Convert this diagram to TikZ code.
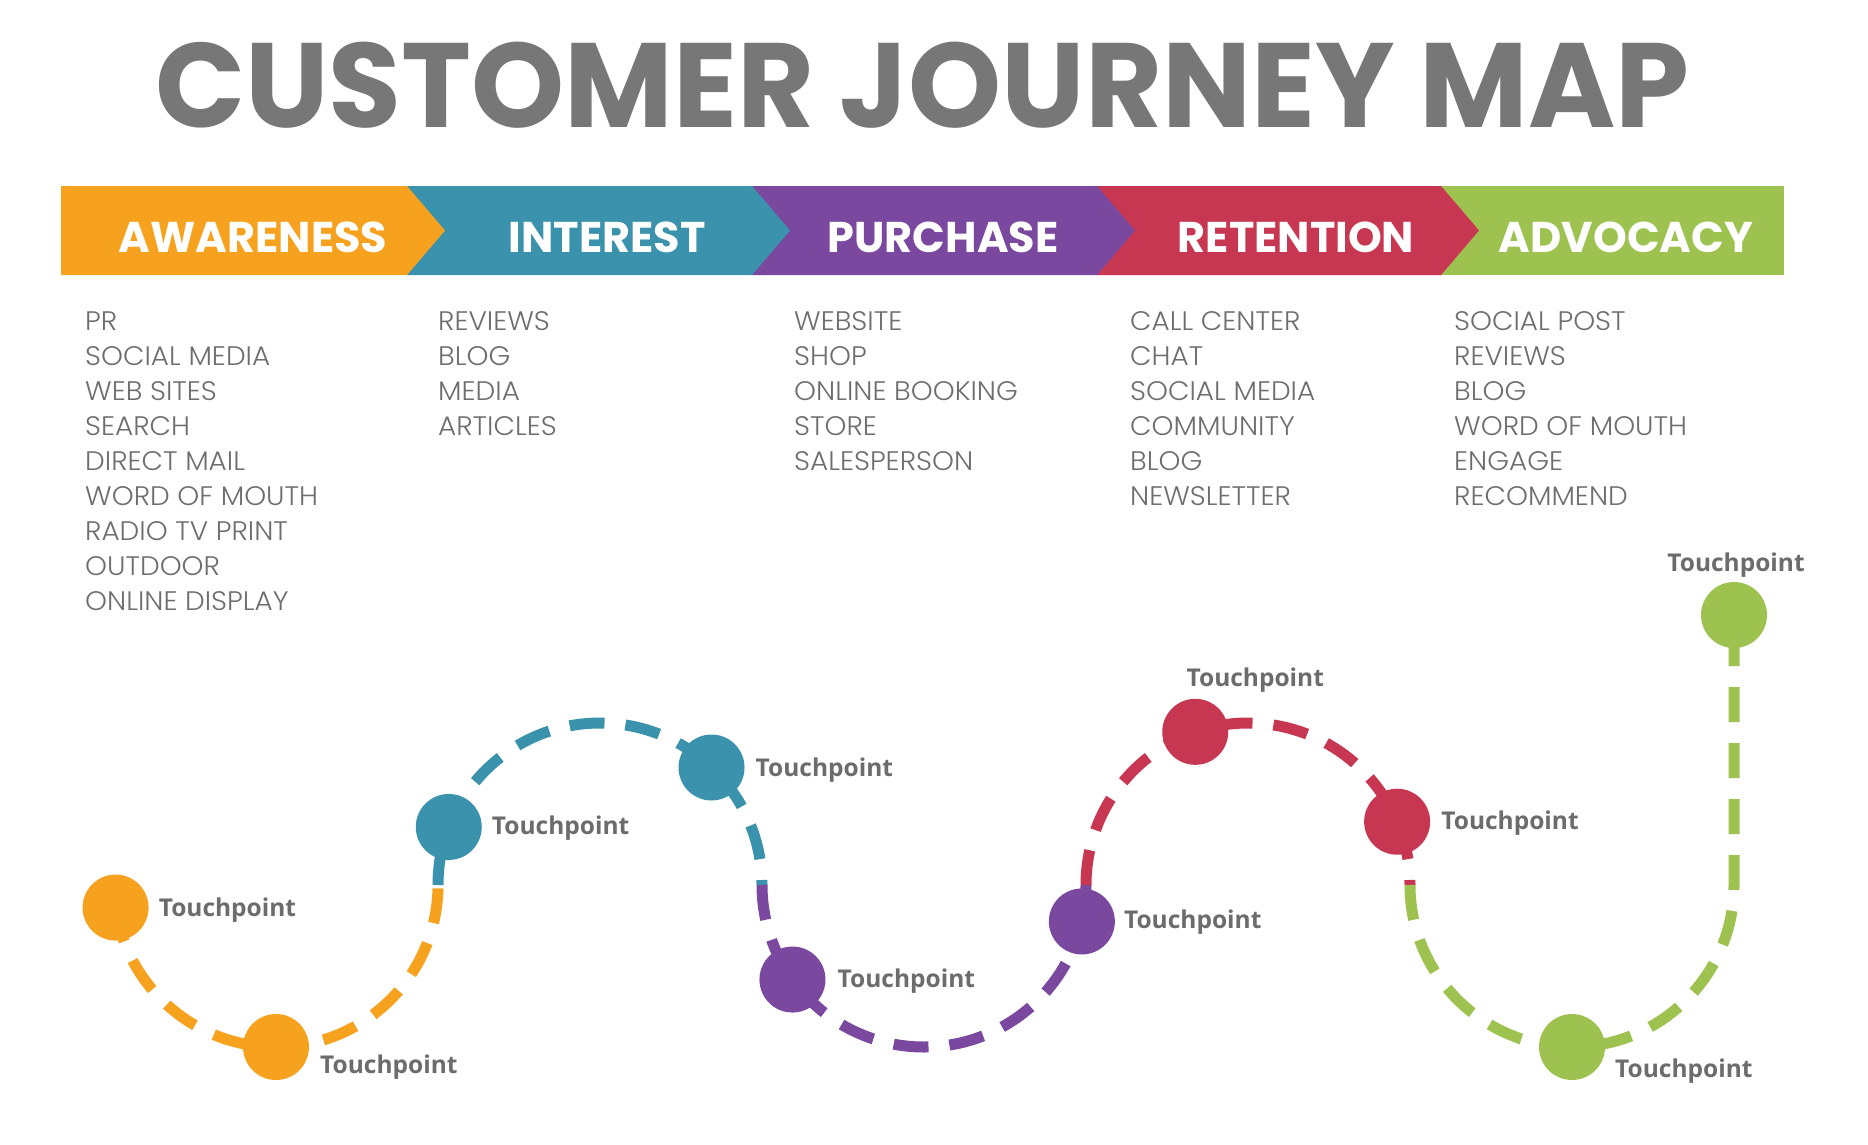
\documentclass[tikz,border=0pt]{standalone}
\usepackage{fontspec}
\usetikzlibrary{calc}
\newfontfamily\titlefont{Poppins}[FakeStretch=0.987]
\newfontfamily\bannerfont{Poppins}
\newfontfamily\listfont{Poppins Light}[FakeStretch=1.04]
\newfontfamily\tpfont{Open Sans}
\definecolor{cOrange}{RGB}{246,162,30}
\definecolor{cTeal}{RGB}{59,146,172}
\definecolor{cPurple}{RGB}{122,72,158}
\definecolor{cRed}{RGB}{200,55,82}
\definecolor{cGreen}{RGB}{157,194,80}
\definecolor{cTitle}{RGB}{119,119,119}
\definecolor{cList}{RGB}{110,110,112}
\definecolor{cLabel}{RGB}{108,108,110}
\tikzset{
  pathseg/.style={line width=11pt, dash pattern=on 35pt off 21pt},
  tpdot/.style={circle, minimum size=66pt, inner sep=0pt, fill=#1},
  tplabel/.style={font=\tpfont\bfseries\fontsize{24.5}{29}\selectfont, text=cLabel, inner sep=0pt, anchor=base west},
  listitem/.style={font=\listfont\fontsize{26.8}{31}\selectfont, text=cList, inner sep=0pt, anchor=base west},
  stagetext/.style={font=\bannerfont\bfseries\fontsize{43}{50}\selectfont, text=white, inner sep=0pt, anchor=base},
}
\begin{document}
\begin{tikzpicture}[x=1pt,y=-1pt]
\useasboundingbox (0,0) rectangle (1868,1145);
\fill[white] (0,0) rectangle (1868,1145);

% title
\node[anchor=base, font=\titlefont\bfseries\fontsize{120}{130}\selectfont, text=cTitle, inner sep=0pt] (title) at (922.5,128) {CUSTOMER JOURNEY MAP};

% banner
\fill[cGreen] (1441,186) rectangle (1784,275);
\fill[cRed] (1097,186) -- (1441,186) -- (1479,230.5) -- (1441,275) -- (1097,275) -- cycle;
\fill[cPurple] (752,186) -- (1097,186) -- (1135,230.5) -- (1097,275) -- (752,275) -- cycle;
\fill[cTeal] (407,186) -- (752,186) -- (790,230.5) -- (752,275) -- (407,275) -- cycle;
\fill[cOrange] (61,186) -- (407,186) -- (445,230.5) -- (407,275) -- (61,275) -- cycle;
\node[stagetext] (s1) at (253,252) {AWARENESS};
\node[stagetext] (s2) at (607,252) {INTEREST};
\node[stagetext] (s3) at (943,252) {PURCHASE};
\node[stagetext] (s4) at (1296,252) {RETENTION};
\node[stagetext] (s5) at (1626,252) {ADVOCACY};

% lists
\foreach \t [count=\i] in {PR, SOCIAL MEDIA, WEB SITES, SEARCH, DIRECT MAIL, WORD OF MOUTH, RADIO TV PRINT, OUTDOOR, ONLINE DISPLAY}
  \node[listitem] (aw\i) at (85,{330+35.1*(\i-1)}) {\t};
\foreach \t [count=\i] in {REVIEWS, BLOG, MEDIA, ARTICLES}
  \node[listitem] (in\i) at (438,{330+35.1*(\i-1)}) {\t};
\foreach \t [count=\i] in {WEBSITE, SHOP, ONLINE BOOKING, STORE, SALESPERSON}
  \node[listitem] (pu\i) at (794,{330+35.1*(\i-1)}) {\t};
\foreach \t [count=\i] in {CALL CENTER, CHAT, SOCIAL MEDIA, COMMUNITY, BLOG, NEWSLETTER}
  \node[listitem] (re\i) at (1130,{330+35.1*(\i-1)}) {\t};
\foreach \t [count=\i] in {SOCIAL POST, REVIEWS, BLOG, WORD OF MOUTH, ENGAGE, RECOMMEND}
  \node[listitem] (ad\i) at (1454,{330+35.1*(\i-1)}) {\t};

% journey path geometry
\path (276,885) coordinate (c1) (600,885) coordinate (c2) (924,885) coordinate (c3)
      (1248,885) coordinate (c4) (1572,885) coordinate (c5);
\path (c1) ++(0:162) coordinate (j1);
\path (c2) ++(0:162) coordinate (j2);
\path (c3) ++(0:162) coordinate (j3);
\path (c4) ++(0:162) coordinate (j4);
\path (c5) ++(0:162) coordinate (j5);
\path (c1) ++(172:162) coordinate (p1);
\path (c1) ++(90:162) coordinate (p2);
\path (c2) ++(201:162) coordinate (p3);
\path (c2) ++(313.5:162) coordinate (p4);
\path (c3) ++(144.3:162) coordinate (p5);
\path (c3) ++(13:162) coordinate (p6);
\path (c4) ++(251:162) coordinate (p7);
\path (c4) ++(337:162) coordinate (p8);
\path (c5) ++(90:162) coordinate (p9);
\coordinate (p10) at (1734,615);

\draw[pathseg, cOrange] (p1) arc[start angle=172, end angle=0, radius=162];
\draw[pathseg, cTeal] (j1) arc[start angle=180, end angle=360, radius=162];
\draw[pathseg, cPurple] (j2) arc[start angle=180, end angle=0, radius=162];
\draw[pathseg, cRed] (j3) arc[start angle=180, end angle=360, radius=162];
\draw[pathseg, cGreen] (j4) arc[start angle=180, end angle=0, radius=162] -- (p10);

% touchpoints
\node[tpdot=cOrange] (tp1) at (p1) {};
\node[tpdot=cOrange] (tp2) at (p2) {};
\node[tpdot=cTeal] (tp3) at (p3) {};
\node[tpdot=cTeal] (tp4) at (p4) {};
\node[tpdot=cPurple] (tp5) at (p5) {};
\node[tpdot=cPurple] (tp6) at (p6) {};
\node[tpdot=cRed] (tp7) at (p7) {};
\node[tpdot=cRed] (tp8) at (p8) {};
\node[tpdot=cGreen] (tp9) at (p9) {};
\node[tpdot=cGreen] (tp10) at (p10) {};

\node[tplabel] (l1) at ($(tp1)+(43,9)$) {Touchpoint};
\node[tplabel] (l2) at ($(tp2)+(44,26)$) {Touchpoint};
\node[tplabel] (l3) at ($(tp3)+(43,8)$) {Touchpoint};
\node[tplabel] (l4) at ($(tp4)+(44,9)$) {Touchpoint};
\node[tplabel] (l5) at ($(tp5)+(45,8)$) {Touchpoint};
\node[tplabel] (l6) at ($(tp6)+(42,7)$) {Touchpoint};
\node[tplabel, anchor=base] (l7) at ($(tp7)+(60,-45)$) {Touchpoint};
\node[tplabel] (l8) at ($(tp8)+(44,8)$) {Touchpoint};
\node[tplabel] (l9) at ($(tp9)+(43,30)$) {Touchpoint};
\node[tplabel, anchor=base] (l10) at ($(tp10)+(2,-44)$) {Touchpoint};
\end{tikzpicture}
\end{document}
